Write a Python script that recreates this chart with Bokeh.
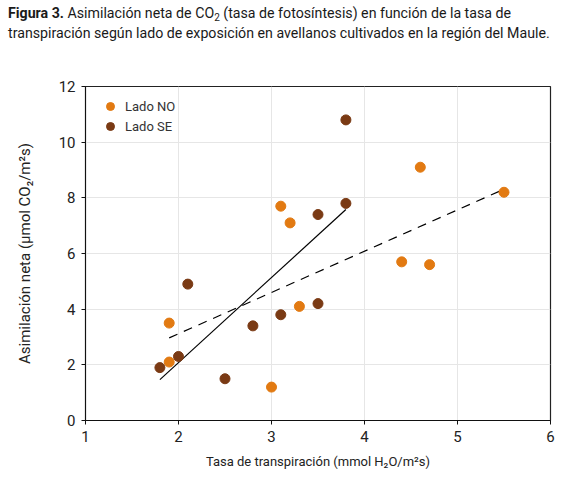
import numpy as np
from bokeh.plotting import figure
from bokeh.layouts import column
from bokeh.models import Legend, LegendItem, FixedTicker, Range1d, Div
from bokeh.embed import file_html
from bokeh.resources import INLINE

# ---- data ----
no_x = [1.9, 1.9, 3.0, 3.1, 3.2, 3.3, 4.4, 4.6, 4.7, 5.5]
no_y = [3.5, 2.1, 1.2, 7.7, 7.1, 4.1, 5.7, 9.1, 5.6, 8.2]
se_x = [1.8, 2.0, 2.1, 2.5, 2.8, 3.1, 3.5, 3.5, 3.8, 3.8]
se_y = [1.9, 2.3, 4.9, 1.5, 3.4, 3.8, 4.2, 7.4, 7.8, 10.8]
x_ticks = [1, 2, 3, 4, 5, 6]
y_ticks = [0, 2, 4, 6, 8, 10, 12]

title_bold = "Figura 3."
title_rest1 = "Asimilación neta de CO<sub>2</sub> (tasa de fotosíntesis) en función de la tasa de"
title_line2 = "transpiración según lado de exposición en avellanos cultivados en la región del Maule."
x_label = "Tasa de transpiración (mmol H₂O/m²s)"
y_label = "Asimilación neta (µmol CO₂/m²s)"
names = ["Lado NO", "Lado SE"]

C_NO = "#E27A12"
C_SE = "#7A3A14"
FONT = "Roboto"
TXT = "#1a1a1a"

# ---- title ----
title_html = (f"<b>{title_bold}</b> {title_rest1}<br>{title_line2}")
t = Div(text=title_html, width=578, height=60, margin=0,
        styles={"font-family": FONT, "font-size": "14.2px", "line-height": "20px",
                "color": TXT, "padding": "3px 0 0 8px", "white-space": "nowrap"},
        stylesheets=["sub { font-size: 10px; line-height: 0; vertical-align: -3px; }"])

# ---- main chart ----
p = figure(frame_width=465, frame_height=334, min_border_left=85, min_border_right=28,
           min_border_top=26, min_border_bottom=58, output_backend="svg",
           toolbar_location=None, x_range=Range1d(1, 6), y_range=Range1d(0, 12))
p.background_fill_color = "white"
p.border_fill_color = "white"
p.outline_line_color = "#222222"
p.outline_line_width = 1.2

for ax, ticks in ((p.xaxis[0], x_ticks), (p.yaxis[0], y_ticks)):
    ax.ticker = FixedTicker(ticks=ticks)
    ax.minor_tick_line_color = None
    ax.major_tick_in = 0
    ax.major_tick_out = 4
    ax.axis_line_color = "#111111"
    ax.major_tick_line_color = "#111111"
    ax.major_label_text_font = FONT
    ax.major_label_text_font_size = "15px"
    ax.major_label_text_color = "#222222"
    ax.axis_label_text_font = FONT
    ax.axis_label_text_font_style = "normal"
    ax.axis_label_text_color = "#222222"

p.xaxis.axis_label = x_label
p.yaxis.axis_label = y_label
p.xaxis.axis_label_text_font_size = "13px"
p.yaxis.axis_label_text_font_size = "15px"
p.xaxis.major_label_standoff = 6
p.xaxis.axis_label_standoff = 9
p.yaxis.major_label_standoff = 6
p.yaxis.axis_label_standoff = 22

p.grid.grid_line_color = "#e6e6e6"
p.grid.grid_line_width = 1
p.xgrid.ticker = FixedTicker(ticks=x_ticks)
p.ygrid.ticker = FixedTicker(ticks=y_ticks)

# trend lines (least squares fits from the data)
a_se, b_se = np.polyfit(se_x, se_y, 1)
a_no, b_no = np.polyfit(no_x, no_y, 1)
xs_se = [min(se_x), max(se_x)]
xs_no = [min(no_x), max(no_x)]
p.line(xs_se, [a_se * v + b_se for v in xs_se], line_color="black", line_width=1.2)
p.line(xs_no, [a_no * v + b_no for v in xs_no], line_color="black", line_width=1.2,
       line_dash="9 7")

r_no = p.scatter(no_x, no_y, size=10, fill_color=C_NO, line_color=C_NO)
r_se = p.scatter(se_x, se_y, size=10, fill_color=C_SE, line_color=C_SE)

legend = Legend(items=[LegendItem(label=names[0], renderers=[r_no]),
                       LegendItem(label=names[1], renderers=[r_se])],
                location="top_left", margin=10, padding=9, spacing=0,
                glyph_width=30, glyph_height=20, label_standoff=0,
                border_line_color=None, background_fill_alpha=0,
                label_text_font=FONT, label_text_font_size="13px",
                label_text_color="#333333")
p.add_layout(legend)

layout = column(t, p, spacing=0)
open("out.html", "w").write(file_html(layout, INLINE))
